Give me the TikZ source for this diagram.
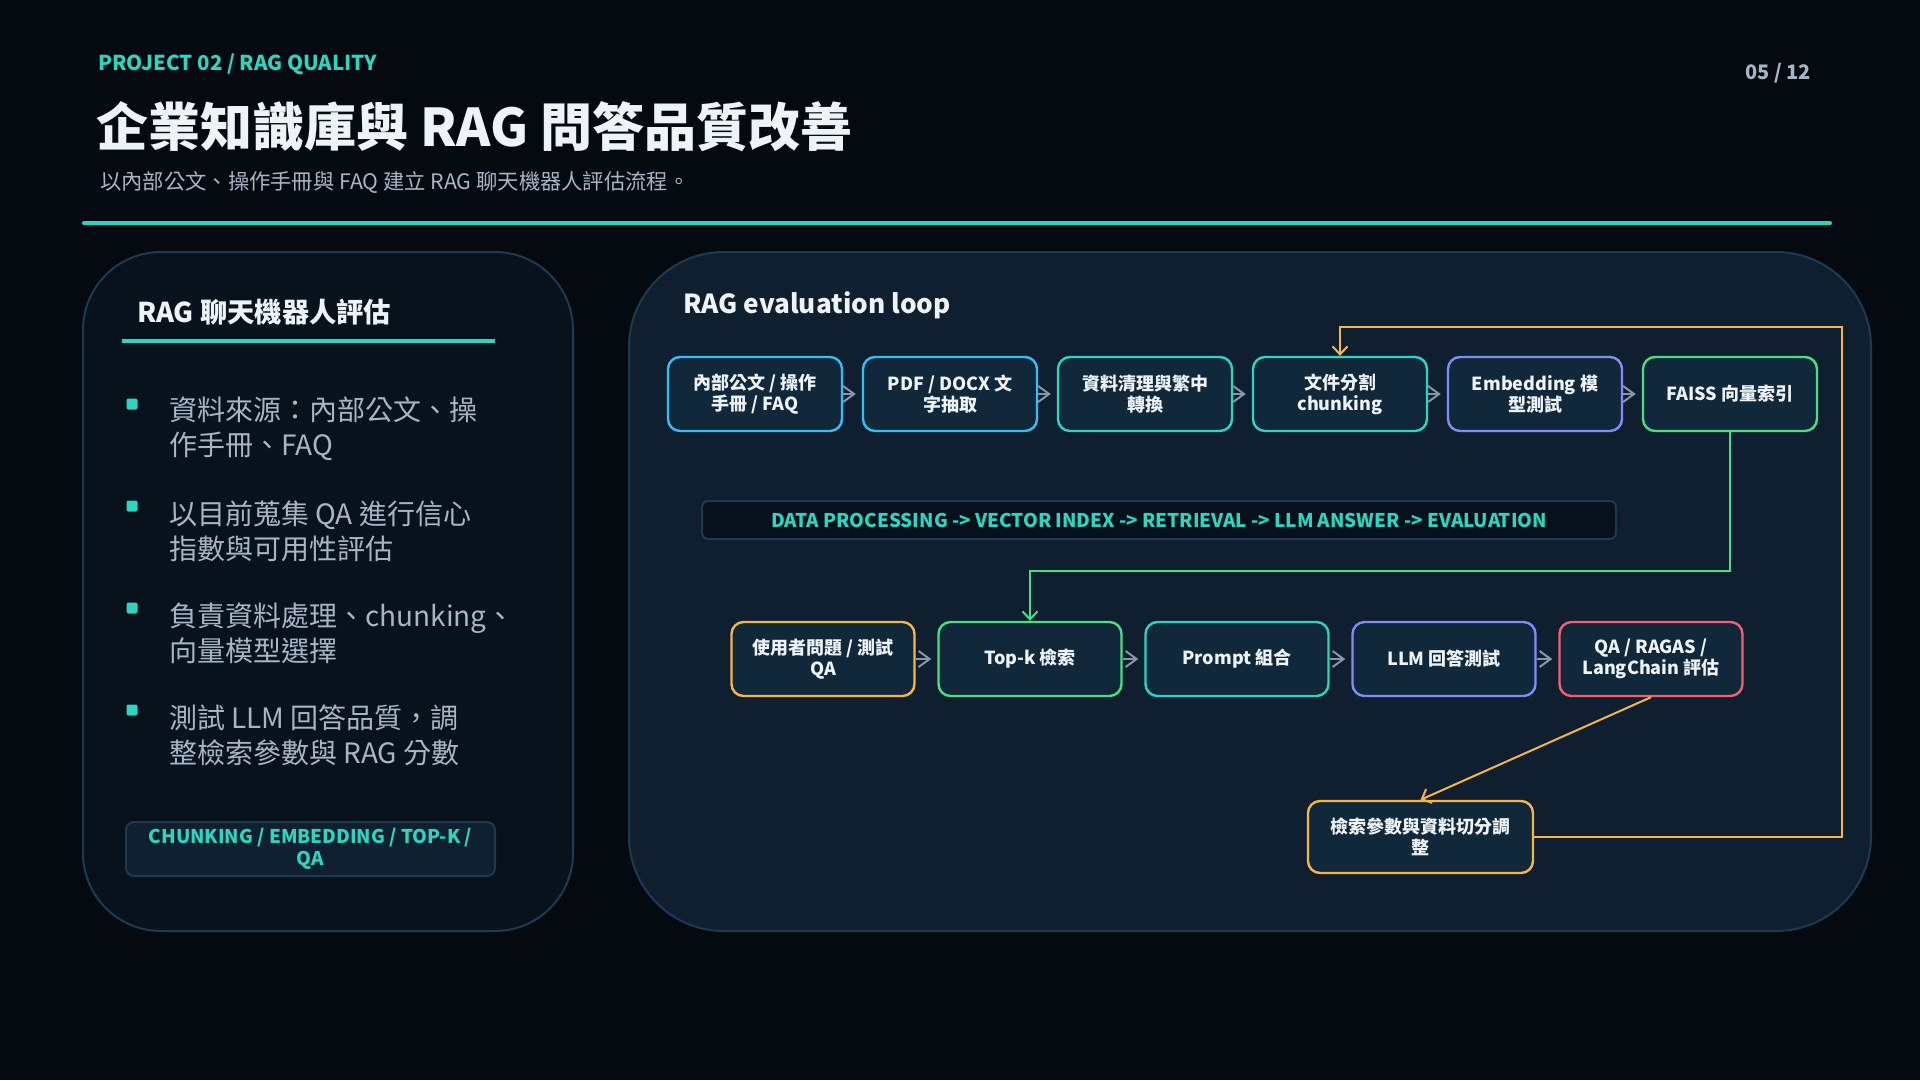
\documentclass[tikz,border=0pt]{standalone}
\usepackage{fontspec}
\setmainfont{Noto Sans CJK TC}
\usetikzlibrary{arrows.meta}
\definecolor{bg}{HTML}{050A10}
\definecolor{leftfill}{HTML}{08121C}
\definecolor{rightfill}{HTML}{0F1F2F}
\definecolor{panelline}{HTML}{1E3A52}
\definecolor{boxfill}{HTML}{11283B}
\definecolor{bannerfill}{HTML}{07111B}
\definecolor{tagfill}{HTML}{0F2030}
\definecolor{teal}{HTML}{2DD4BF}
\definecolor{cblue}{HTML}{38BDF8}
\definecolor{cindigo}{HTML}{818CF8}
\definecolor{cgreen}{HTML}{4ADE80}
\definecolor{corange}{HTML}{F5B54A}
\definecolor{cred}{HTML}{F26170}
\definecolor{whitetext}{HTML}{EEF3F8}
\definecolor{graytext}{HTML}{A7B6C6}
\definecolor{chevgray}{HTML}{8796A8}
\tikzset{
  flowbox/.style={draw, line width=2.4pt, rounded corners=12pt, fill=boxfill,
    minimum height=74pt, align=center, text=whitetext, inner sep=0pt,
    font=\fontsize{18}{21}\selectfont\bfseries},
  toprow/.style={flowbox, minimum width=174pt},
  botrow/.style={flowbox, minimum width=183pt},
  chev/.style={draw=chevgray, line width=2pt, -{Straight Barb[length=11pt,width=16pt]}},
  loopline/.style={line width=2pt, -{Straight Barb[length=8pt,width=15pt]}},
  bullettext/.style={anchor=west, align=left, inner sep=0pt, text=graytext,
    font=\fontsize{28}{35}\selectfont},
  bulletsq/.style={fill=teal, minimum size=11pt, inner sep=0pt, rounded corners=2pt}
}
\begin{document}
\begin{tikzpicture}[x=1pt,y=-1pt]
\fill[bg] (0,0) rectangle (1920,1080);
\useasboundingbox (0,0) rectangle (1920,1080);

% header
\node[anchor=west, inner sep=0pt, text=teal, font=\fontsize{20.5}{24}\selectfont\bfseries] (kicker) at (98,64) {PROJECT 02 / RAG QUALITY};
\node[anchor=east, inner sep=0pt, text=graytext, font=\fontsize{20}{24}\selectfont\bfseries] (page) at (1811,73) {05 / 12};
\node[anchor=west, inner sep=0pt, text=whitetext, font=\fontsize{52}{60}\selectfont\bfseries] (title) at (96,127) {企業知識庫與 RAG 問答品質改善};
\node[anchor=west, inner sep=0pt, text=graytext, font=\fontsize{21.3}{25}\selectfont] (subtitle) at (100,182) {以內部公文、操作手冊與 FAQ 建立 RAG 聊天機器人評估流程。};
\draw[teal, line width=4pt, line cap=round] (84,223) -- (1830,223);

% left panel
\draw[panelline, line width=2pt, fill=leftfill, rounded corners=78pt] (83,252) rectangle (573,931);
\node[anchor=west, inner sep=0pt, text=whitetext, font=\fontsize{27.3}{31}\selectfont\bfseries] (lhead) at (137,312) {RAG 聊天機器人評估};
\draw[teal, line width=4pt] (122,341) -- (495,341);

\node[bulletsq] (s1) at (132,404) {};
\node[bulletsq] (s2) at (132,506) {};
\node[bulletsq] (s3) at (132,608) {};
\node[bulletsq] (s4) at (132,710) {};
\node[bullettext] (t1) at (169,428.5) {資料來源：內部公文、操\\作手冊、FAQ};
\node[bullettext] (t2) at (169,531) {以目前蒐集 QA 進行信心\\指數與可用性評估};
\node[bullettext] (t3) at (169,633) {負責資料處理、chunking、\\向量模型選擇};
\node[bullettext] (t4) at (169,735) {測試 LLM 回答品質，調\\整檢索參數與 RAG 分數};

\node[draw=panelline, line width=2pt, fill=tagfill, rounded corners=8pt, minimum width=369pt, minimum height=54pt, inner sep=0pt, align=center, text=teal, font=\fontsize{18.9}{22}\selectfont\bfseries] (tag) at (310.5,849) {CHUNKING / EMBEDDING / TOP-K /\\QA};

% right panel
\draw[panelline, line width=2pt, fill=rightfill, rounded corners=95pt] (629,252) rectangle (1871,931);
\node[anchor=west, inner sep=0pt, text=whitetext, font=\fontsize{26.2}{31}\selectfont\bfseries] (rhead) at (683,305) {RAG evaluation loop};

% top row
\node[toprow, draw=cblue] (src) at (755,394) {內部公文 / 操作\\手冊 / FAQ};
\node[toprow, draw=cblue] (pdf) at (950,394) {PDF / DOCX 文\\字抽取};
\node[toprow, draw=teal] (clean) at (1145,394) {資料清理與繁中\\轉換};
\node[toprow, draw=teal] (chunk) at (1340,394) {文件分割\\chunking};
\node[toprow, draw=cindigo] (embed) at (1535,394) {Embedding 模\\型測試};
\node[toprow, draw=cgreen] (faiss) at (1730,394) {FAISS 向量索引};

\draw[chev] (src.east) -- ([xshift=-6pt]pdf.west);
\draw[chev] (pdf.east) -- ([xshift=-6pt]clean.west);
\draw[chev] (clean.east) -- ([xshift=-6pt]chunk.west);
\draw[chev] (chunk.east) -- ([xshift=-6pt]embed.west);
\draw[chev] (embed.east) -- ([xshift=-6pt]faiss.west);

% banner
\node[draw=panelline, line width=2pt, fill=bannerfill, rounded corners=6pt, minimum width=914pt, minimum height=38pt, inner sep=0pt, text=teal, font=\fontsize{18.9}{22}\selectfont\bfseries] (banner) at (1159,520) {DATA PROCESSING -> VECTOR INDEX -> RETRIEVAL -> LLM ANSWER -> EVALUATION};

% bottom row
\node[botrow, draw=corange] (user) at (823,659) {使用者問題 / 測試\\QA};
\node[botrow, draw=cgreen] (topk) at (1030,659) {Top-k 檢索};
\node[botrow, draw=teal] (prompt) at (1237,659) {Prompt 組合};
\node[botrow, draw=cindigo] (llm) at (1444,659) {LLM 回答測試};
\node[botrow, draw=cred] (qa) at (1651,659) {QA / RAGAS /\\LangChain 評估};

\draw[chev] (user.east) -- ([xshift=-6pt]topk.west);
\draw[chev] (topk.east) -- ([xshift=-6pt]prompt.west);
\draw[chev] (prompt.east) -- ([xshift=-6pt]llm.west);
\draw[chev] (llm.east) -- ([xshift=-6pt]qa.west);

% adjustment box
\node[flowbox, draw=corange, minimum width=225pt, minimum height=72pt] (adj) at (1420.5,837) {檢索參數與資料切分調\\整};

% connectors
\coordinate (gturn) at (1400,571);
\draw[loopline, cgreen] (faiss.south) |- (gturn) -| (topk.north);
\draw[loopline, corange] (qa.south) -- (adj.north);
\coordinate (oturn) at (1842,327);
\draw[loopline, corange] (adj.east) -| (oturn) -| (chunk.north);
\end{tikzpicture}
\end{document}
